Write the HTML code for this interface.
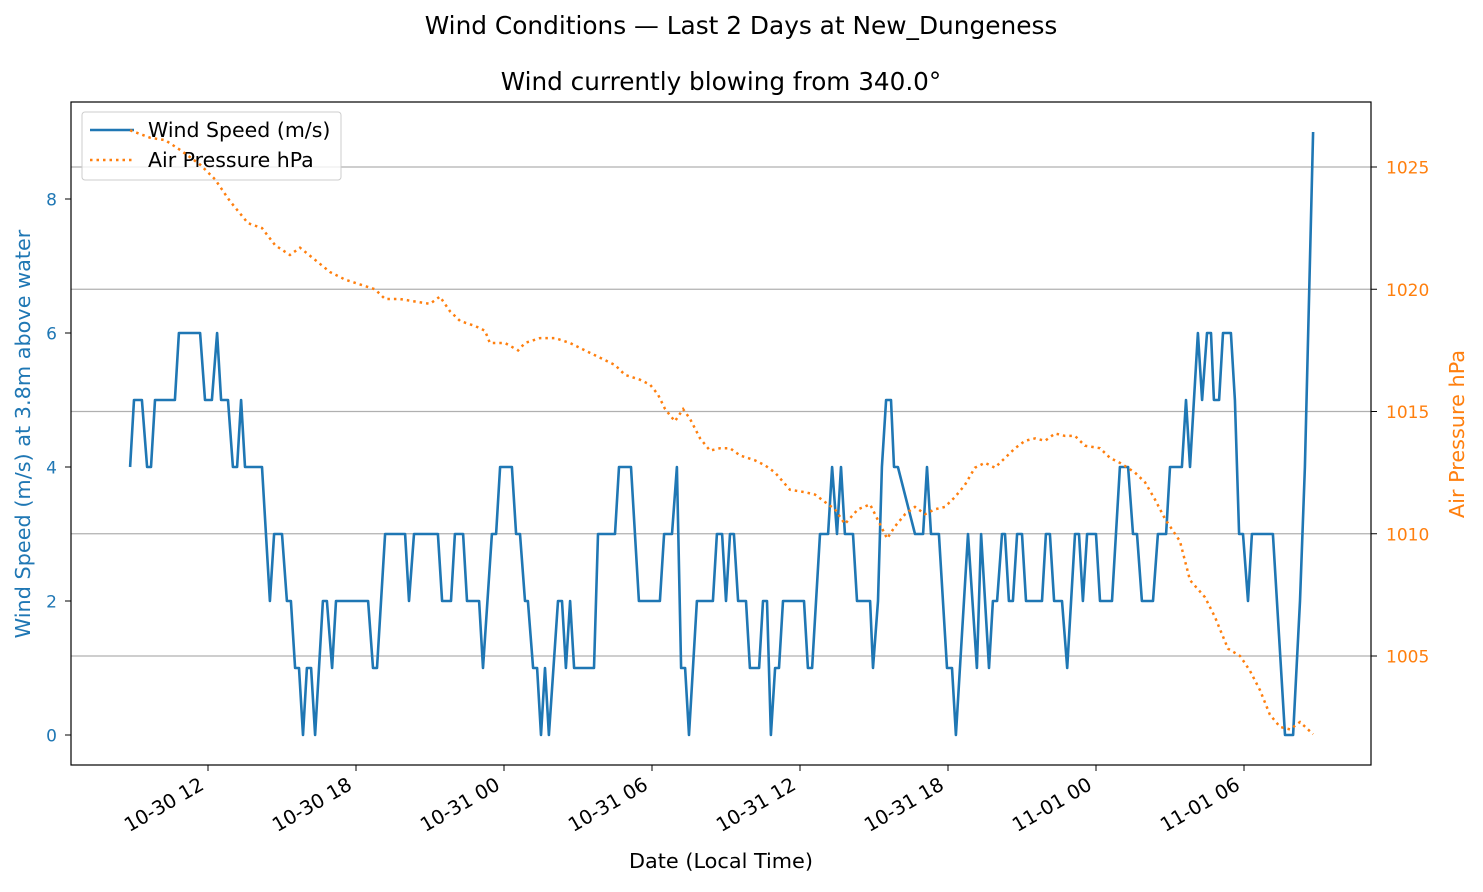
<!DOCTYPE html>
<html><head><meta charset="utf-8"><style>
body{margin:0;background:#fff;}
svg text{font-family:"DejaVu Sans","Liberation Sans",sans-serif;}
</style></head><body>
<svg id="chart" width="1483" height="887" xmlns="http://www.w3.org/2000/svg">
<text x="741" y="34" text-anchor="middle" font-size="24.8">Wind Conditions — Last 2 Days at New_Dungeness</text>
<text x="721" y="90" text-anchor="middle" font-size="24.7">Wind currently blowing from 340.0°</text>
<g id="grid"></g>
<g id="series"></g>
<g>
<rect x="82" y="112" width="259" height="68" rx="3" fill="#fff" fill-opacity="0.8" stroke="#ccc"/>
<line x1="90" y1="130" x2="134" y2="130" stroke="#1f77b4" stroke-width="2.5"/>
<text x="148" y="137" font-size="20.5">Wind Speed (m/s)</text>
<line x1="90" y1="160" x2="134" y2="160" stroke="#ff7f0e" stroke-width="2.5" stroke-dasharray="2.5 4"/>
<text x="148" y="167" font-size="20.5">Air Pressure hPa</text>
</g>
<g id="series2"></g>
<rect x="71" y="102" width="1300" height="663" fill="none" stroke="#000" stroke-width="1.2"/>
<g id="axes"></g>
<text transform="translate(30,434) rotate(-90)" text-anchor="middle" font-size="20.8" fill="#1f77b4">Wind Speed (m/s) at 3.8m above water</text>
<text transform="translate(1464,434) rotate(-90)" text-anchor="middle" font-size="20.8" fill="#ff7f0e">Air Pressure hPa</text>
<text x="721" y="868" text-anchor="middle" font-size="20.8">Date (Local Time)</text>
</svg>
<script>
// hours since 10-30 00:00 local
const windHours=[8.84,9.00,9.32,9.53,9.69,9.85,10.66,10.82,11.68,11.88,12.16,12.37,12.53,12.81,13.01,13.18,13.34,13.50,14.19,14.51,14.68,15.00,15.20,15.36,15.53,15.69,15.85,16.01,16.18,16.34,16.66,16.82,17.03,17.19,18.49,18.69,18.85,19.18,19.99,20.15,20.35,21.32,21.49,21.85,22.01,22.34,22.50,22.99,23.15,23.51,23.68,23.84,24.32,24.49,24.65,24.85,24.97,25.18,25.34,25.50,25.66,25.82,26.19,26.35,26.51,26.68,26.84,27.65,27.81,28.50,28.66,29.15,29.47,30.32,30.49,30.81,31.01,31.18,31.34,31.50,31.82,32.47,32.63,32.84,33.00,33.16,33.32,33.49,33.81,33.97,34.34,34.50,34.66,34.82,34.99,35.15,35.31,36.16,36.32,36.49,36.81,37.14,37.30,37.50,37.66,37.82,38.15,38.31,38.84,38.96,39.16,39.32,39.49,39.69,39.81,39.97,40.66,40.99,41.15,41.31,41.63,41.96,42.16,42.32,42.81,43.17,43.34,43.66,43.82,43.99,44.19,44.31,44.47,44.63,44.80,45.00,45.16,45.81,45.97,46.13,46.30,46.62,46.83,47.15,47.31,47.47,47.64,48.00,48.16,48.65,48.97,49.30,49.50,49.66,49.86,50.31,50.51,50.84,51.00,51.48,51.65,51.81,52.13,52.30,52.50,52.66,52.78,52.99,53.15,53.47,53.63,53.80,53.96,54.16,54.32,55.17,55.66,55.99,56.27,56.47,56.80];
const windSpeeds=[4,5,5,4,4,5,5,6,6,5,5,6,5,5,4,4,5,4,4,2,3,3,2,2,1,1,0,1,1,0,2,2,1,2,2,1,1,3,3,2,3,3,2,2,3,3,2,2,1,3,3,4,4,3,3,2,2,1,1,0,1,0,2,2,1,2,1,1,3,3,4,4,2,2,3,3,4,1,1,0,2,2,3,3,2,3,3,2,2,1,1,2,2,0,1,1,2,2,1,1,3,3,4,3,4,3,3,2,2,1,2,4,5,5,4,4,3,3,4,3,3,1,1,0,3,1,3,1,2,2,3,3,2,2,3,3,2,2,3,3,2,2,1,3,3,2,3,3,2,2,4,4,3,3,2,2,3,3,4,4,5,4,6,5,6,6,5,5,6,6,5,3,3,2,3,3,0,0,2,4,9];
const pressHours=[8.84,9.65,10.26,10.87,11.68,12.28,12.89,13.62,14.19,14.72,15.32,15.73,16.34,16.95,17.55,18.16,18.77,19.18,19.78,20.39,21.00,21.40,21.81,22.22,22.82,23.23,23.43,24.04,24.57,24.85,25.46,26.07,26.68,27.28,27.89,28.50,28.90,29.51,29.92,30.24,30.53,30.93,31.26,31.54,31.95,32.35,32.76,33.16,33.57,34.18,34.58,34.99,35.59,36.20,36.61,37.01,37.42,37.82,38.35,38.84,39.24,39.53,39.85,40.26,40.66,41.07,41.47,41.88,42.28,42.69,43.09,43.50,43.90,44.31,44.72,45.12,45.53,45.93,46.34,46.74,47.15,47.55,48.16,48.57,48.97,49.58,49.99,50.39,50.80,51.40,51.81,52.42,52.82,53.35,53.84,54.24,54.65,55.05,55.46,55.87,56.27,56.80];
const pressValues=[1026.5,1026.2,1026.1,1025.7,1025.1,1024.5,1023.6,1022.7,1022.5,1021.8,1021.4,1021.7,1021.2,1020.7,1020.4,1020.2,1020.0,1019.6,1019.6,1019.5,1019.4,1019.7,1019.1,1018.7,1018.5,1018.3,1017.8,1017.8,1017.5,1017.8,1018.0,1018.0,1017.8,1017.5,1017.2,1016.9,1016.5,1016.3,1016.1,1015.7,1015.1,1014.6,1015.1,1014.7,1013.9,1013.4,1013.5,1013.5,1013.2,1013.0,1012.8,1012.5,1011.8,1011.7,1011.6,1011.3,1011.0,1010.4,1011.0,1011.2,1010.4,1009.8,1010.3,1010.8,1011.1,1010.8,1011.0,1011.1,1011.5,1012.0,1012.7,1012.9,1012.7,1013.1,1013.5,1013.8,1013.9,1013.8,1014.1,1014.0,1014.0,1013.6,1013.5,1013.1,1012.9,1012.5,1012.1,1011.4,1010.6,1009.7,1008.1,1007.4,1006.6,1005.3,1005.0,1004.4,1003.6,1002.6,1002.1,1002.0,1002.3,1001.8];
const xTickHours=[12,18,24,30,36,42,48,54];
const xTickLabels=["10-30 12","10-30 18","10-31 00","10-31 06","10-31 12","10-31 18","11-01 00","11-01 06"];
const leftTicks=[0,2,4,6,8];
const rightTicks=[1005,1010,1015,1020,1025];

const NS="http://www.w3.org/2000/svg";
const xS=h=>208+(h-12)*24.667;
const yL=v=>735-67*v;
const yR=p=>167+(1025-p)*24.45;
function mk(tag,attrs,parent,txt){const e=document.createElementNS(NS,tag);for(const k in attrs)e.setAttribute(k,attrs[k]);if(txt!==undefined)e.textContent=txt;parent.appendChild(e);return e;}
const grid=document.getElementById('grid'),axes=document.getElementById('axes'),series=document.getElementById('series'),series2=document.getElementById('series2');
rightTicks.forEach(p=>{
  const g=mk('line',{x1:71,x2:1371,y1:yR(p),y2:yR(p),stroke:'#b0b0b0','stroke-width':1.2},grid);
  
  
  const t=mk('line',{x1:1371,x2:1377,y1:yR(p),y2:yR(p),stroke:'#000'},axes);
  
  
  const l=mk('text',{x:1386,y:yR(p)+6.5,'font-size':17,fill:'#ff7f0e'},axes,String(p));
  
  
});
leftTicks.forEach(v=>{
  const t=mk('line',{x1:65,x2:71,y1:yL(v),y2:yL(v),stroke:'#000'},axes);
  
  
  const l=mk('text',{x:57,y:yL(v)+6.5,'font-size':17,fill:'#1f77b4','text-anchor':'end'},axes,String(v));
  
  
});
xTickHours.forEach((h,i)=>{
  const x=xS(h);
  const t=mk('line',{x1:x,x2:x,y1:765,y2:771,stroke:'#000'},axes);
  
  
  const l=mk('text',{transform:`translate(${x-10},${776}) rotate(-30)`,'font-size':19.5,'text-anchor':'end','dominant-baseline':'hanging'},axes,xTickLabels[i]);
  
  
});
const wp=mk('polyline',{points:windHours.map((h,i)=>xS(h).toFixed(1)+','+yL(windSpeeds[i]).toFixed(1)).join(' '),fill:'none',stroke:'#1f77b4','stroke-width':2.6,'stroke-linejoin':'round'},series);


const pp=mk('polyline',{points:pressHours.map((h,i)=>xS(h).toFixed(1)+','+yR(pressValues[i]).toFixed(1)).join(' '),fill:'none',stroke:'#ff7f0e','stroke-width':2.5,'stroke-dasharray':'2.5 4'},series2);


</script>
</body></html>
